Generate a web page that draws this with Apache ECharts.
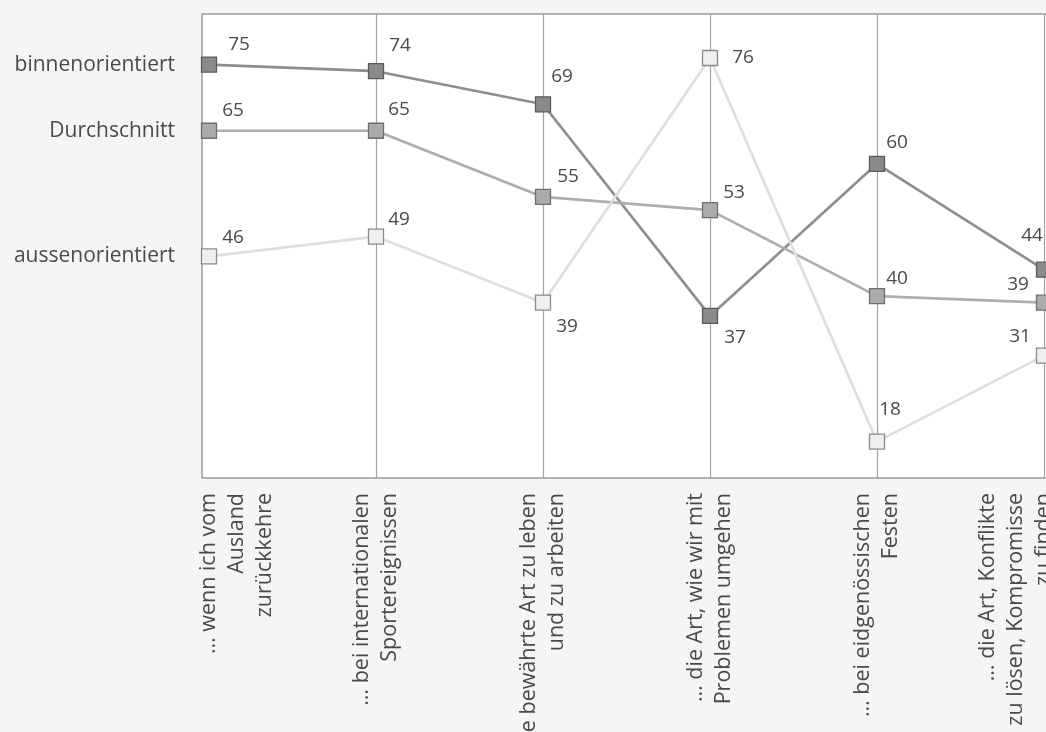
<!DOCTYPE html>
<html>
<head>
<meta charset="utf-8">
<script src="https://cdn.jsdelivr.net/npm/echarts@6/dist/echarts.min.js"></script>
<style>
  html, body { margin: 0; padding: 0; background: #f5f5f7; }
  #chart { width: 1046px; height: 732px; }
</style>
</head>
<body>
<div id="chart"></div>
<script>
// ---- data ----
const categories = [
  '… wenn ich vom\nAusland\nzurückkehre',
  '… bei internationalen\nSportereignissen',
  '… die bewährte Art zu leben\nund zu arbeiten',
  '… die Art, wie wir mit\nProblemen umgehen',
  '… bei eidgenössischen\nFesten',
  '… die Art, Konflikte\nzu lösen, Kompromisse\nzu finden'
];
const seriesNames = ['binnenorientiert', 'Durchschnitt', 'aussenorientiert'];
const binnenValues = [75, 74, 69, 37, 60, 44];
const durchschnittValues = [65, 65, 55, 53, 40, 39];
const aussenValues = [46, 49, 39, 76, 18, 31];

// ---- styles (not data) ----
// blank lines added before (+) or after (-) a rotated category label to shift it sideways
const catLabelShift = [2, 0, 0, 0, 0, -2];
const labelOffsets = {
  binnenorientiert: [[30, -20], [24, -26], [19, -28], [25, 22], [20, -21], [-12, -34]],
  Durchschnitt: [[24, -20], [23, -21], [25, -20], [24, -18], [20, -18], [-26, -18]],
  aussenorientiert: [[24, -19], [23, -17], [24, 24], [33, 0], [13, -32], [-24, -19]]
};
const styles = {
  binnenorientiert: { line: '#8e8e8e', fill: '#8a8a8a', border: '#5a5a5a' },
  Durchschnitt: { line: '#adadad', fill: '#ababab', border: '#6e6e6e' },
  aussenorientiert: { line: '#dedede', fill: '#efefef', border: '#8a8a8a' }
};
const valuesByName = {
  binnenorientiert: binnenValues,
  Durchschnitt: durchschnittValues,
  aussenorientiert: aussenValues
};

const FONT = '"Open Sans", "Noto Sans", sans-serif';
const TEXT = '#4a4a4a';

function buildSeries(name) {
  const vals = valuesByName[name];
  const st = styles[name];
  const offs = labelOffsets[name];
  return {
    name: name,
    type: 'line',
    data: vals.map((v, i) => ({
      value: v,
      label: { offset: offs[i] }
    })),
    symbol: 'rect',
    symbolSize: 15,
    lineStyle: { color: st.line, width: 2.7 },
    itemStyle: { color: st.fill, borderColor: st.border, borderWidth: 1.3 },
    label: {
      show: true,
      position: 'inside',
      align: 'center',
      verticalAlign: 'middle',
      color: TEXT,
      fontFamily: FONT,
      fontSize: 19
    },
    emphasis: { disabled: true },
    animation: false,
    markPoint: {
      symbol: 'rect',
      symbolSize: 0,
      silent: true,
      data: [{ coord: [0, vals[0]] }],
      label: {
        show: true,
        position: 'left',
        distance: 34,
        formatter: name,
        color: TEXT,
        fontFamily: FONT,
        fontSize: 21
      }
    }
  };
}

const chart = echarts.init(document.getElementById('chart'), null, { renderer: 'canvas' });
chart.setOption({
  backgroundColor: '#f5f5f7',
  animation: false,
  grid: { left: 209, right: 2, top: 14, bottom: 254, containLabel: false, outerBoundsMode: 'none' },
  graphic: [{
    type: 'rect',
    z: -10,
    silent: true,
    shape: { x: 202, y: 14, width: 900, height: 464 },
    style: { fill: '#ffffff', stroke: '#9c9c9c', lineWidth: 1.5 }
  }],
  xAxis: {
    type: 'category',
    boundaryGap: false,
    data: categories,
    axisLine: { show: false },
    axisTick: { show: false },
    splitLine: {
      show: true,
      interval: (index) => index > 0,
      lineStyle: { color: '#a4a4a4', width: 1.2 }
    },
    axisLabel: {
      interval: 0,
      rotate: 90,
      margin: 15,
      color: TEXT,
      fontFamily: FONT,
      fontSize: 21.5,
      lineHeight: 28,
      formatter: (value, index) => {
        const s = catLabelShift[index] || 0;
        const pad = '\n'.repeat(Math.abs(s));
        return s > 0 ? pad + value : value + pad;
      }
    }
  },
  yAxis: {
    type: 'value',
    min: 12.5,
    max: 82.65,
    show: false,
    splitLine: { show: false }
  },
  series: seriesNames.map(buildSeries)
});
</script>
</body>
</html>
